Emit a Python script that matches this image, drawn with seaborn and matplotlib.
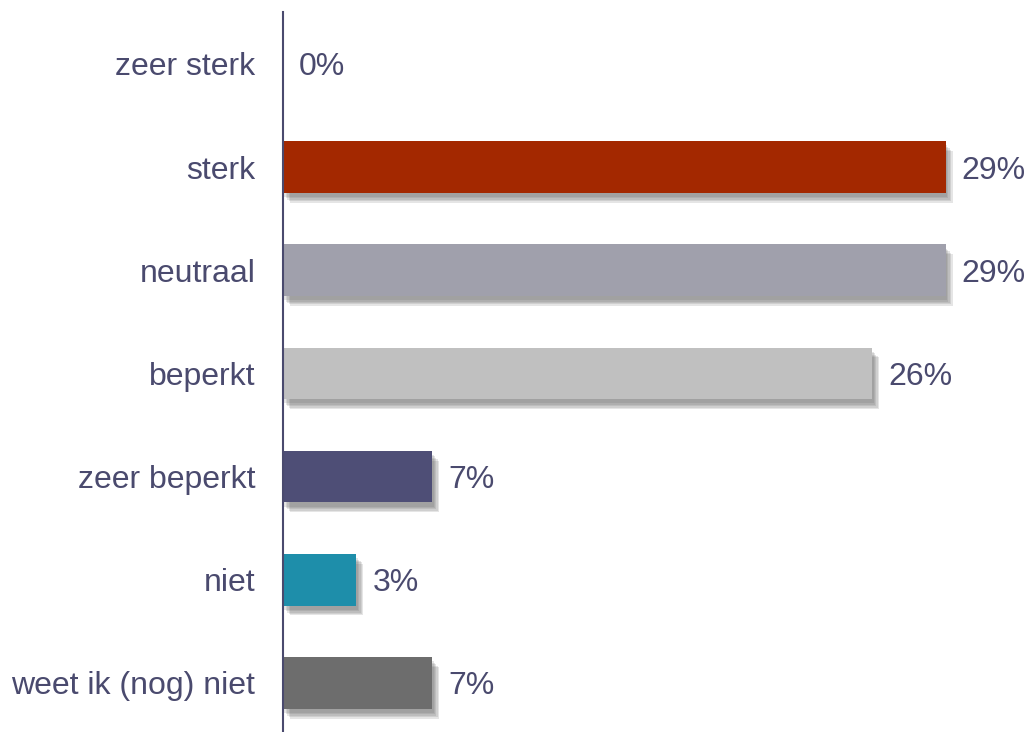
import matplotlib.pyplot as plt
import matplotlib.patheffects as pe
import pandas as pd
import seaborn as sns

categories = ["zeer sterk", "sterk", "neutraal", "beperkt", "zeer beperkt", "niet", "weet ik (nog) niet"]
values = [0.0, 28.9, 28.9, 25.7, 6.51, 3.2, 6.51]
colors = ["#A32800", "#A32800", "#A0A0AC", "#C0C0C0", "#4E4E76", "#1E8EAA", "#6D6D6D"]

text_color = "#4A4A6E"

sns.set_style("white")
plt.rcParams["font.family"] = ["Liberation Sans", "DejaVu Sans"]

df = pd.DataFrame({"categorie": categories, "procent": values})

fig = plt.figure(figsize=(10.28, 7.32), dpi=100)
ax = fig.add_axes([283 / 1028, 0.0, 1 - 283 / 1028, 1 - 12 / 732])

sns.barplot(data=df, y="categorie", x="procent", hue="categorie", palette=colors,
            orient="h", width=0.5, legend=False, ax=ax, saturation=1)

# soft drop shadow: a few stacked, faint offsets
shadow = [pe.SimplePatchShadow(offset=(dx, -dy), shadow_rgbFace="#606060", alpha=0.16)
          for dx, dy in [(1, 3), (2, 4), (3, 5), (4, 6), (5, 7)]]
shadow.append(pe.Normal())
for patch in ax.patches:
    patch.set_path_effects(shadow)
    patch.set_edgecolor("none")

for i, v in enumerate(values):
    ax.annotate(f"{v:.0f}%", xy=(v, i), xytext=(16, 0), textcoords="offset pixels",
                va="center_baseline", ha="left", fontsize=23, color=text_color)

ax.set_xlim(0, 745 / 22.93)
ax.set_ylim(6.475, -0.502)
ax.set_xlabel("")
ax.set_ylabel("")
ax.set_xticks([])
ax.tick_params(axis="y", length=0, pad=20, labelsize=23, labelcolor=text_color)

for side in ["top", "right", "bottom"]:
    ax.spines[side].set_visible(False)
ax.spines["left"].set_color(text_color)
ax.spines["left"].set_linewidth(1.5)

fig.savefig("out.png", dpi=100)
